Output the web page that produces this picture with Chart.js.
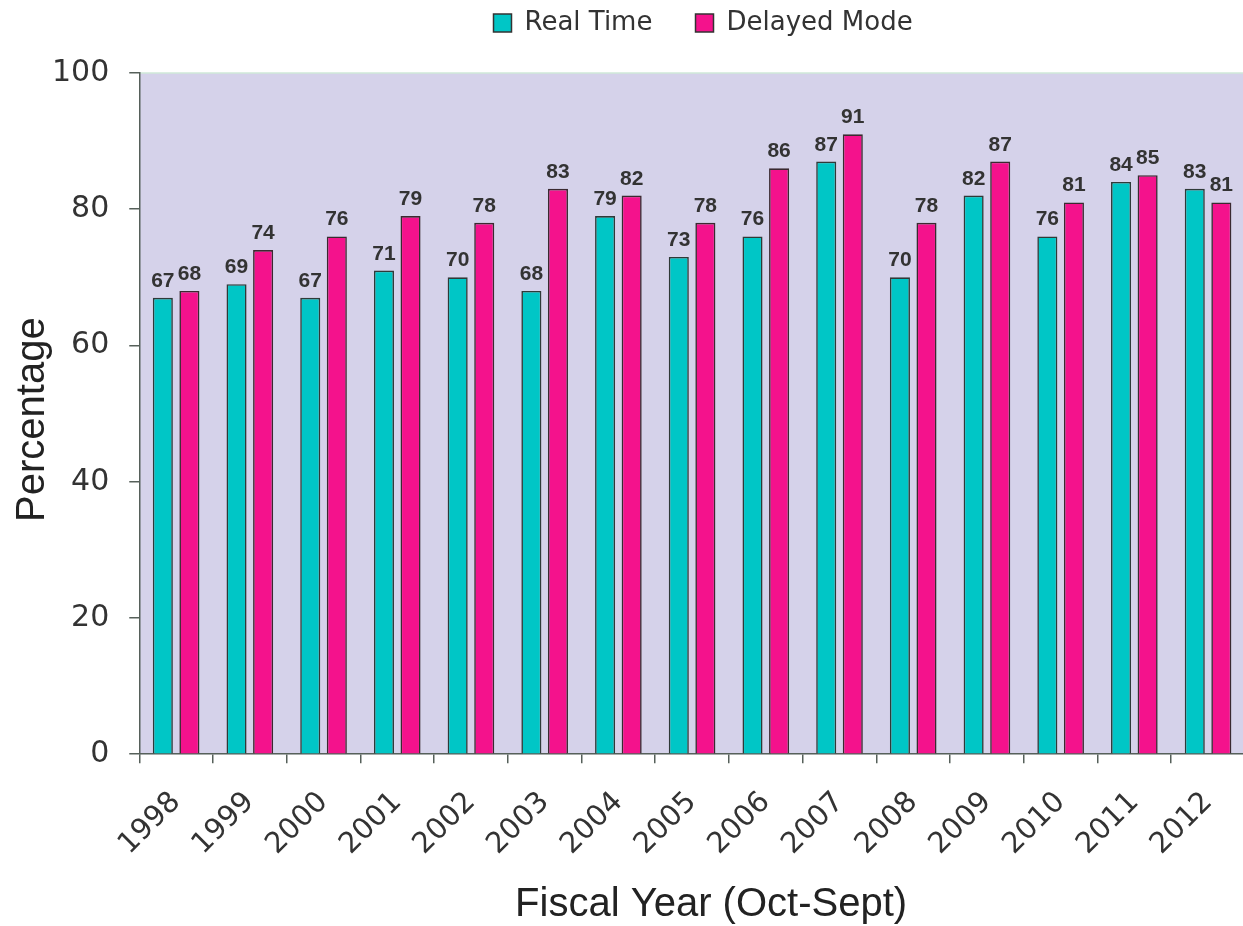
<!DOCTYPE html>
<html>
<head>
<meta charset="utf-8">
<script src="https://cdn.jsdelivr.net/npm/chart.js@4"></script>
<style>
html,body{margin:0;padding:0;background:#fff;overflow:hidden;width:1243px;height:926px;}
#wrap{position:relative;width:1255px;height:926px;}
</style>
</head>
<body>
<div id="wrap"><canvas id="c"></canvas></div>
<script>
const years = ['1998','1999','2000','2001','2002','2003','2004','2005','2006','2007','2008','2009','2010','2011','2012'];
const realTime = [67,69,67,71,70,68,79,73,76,87,70,82,76,84,83];
const delayedMode = [68,74,76,79,78,83,82,78,86,91,78,87,81,85,81];
const yTicks = [0,20,40,60,80,100];

const FONT = '"DejaVu Sans", "Liberation Sans", sans-serif';
const TITLE_FONT = '"Liberation Sans", Arial, sans-serif';
const axisColor = '#56605a';

const bgPlugin = {
  id: 'bg',
  beforeDraw(chart) {
    const {ctx, chartArea: a} = chart;
    ctx.save();
    ctx.fillStyle = '#d5d2ea';
    ctx.fillRect(a.left, a.top, a.right - a.left, a.bottom - a.top);
    ctx.strokeStyle = '#cfe8d8';
    ctx.lineWidth = 1.5;
    ctx.beginPath();
    ctx.moveTo(a.left, a.top);
    ctx.lineTo(a.right, a.top);
    ctx.stroke();
    ctx.restore();
  }
};

const labelPlugin = {
  id: 'vlabels',
  afterDatasetsDraw(chart) {
    const ctx = chart.ctx;
    ctx.save();
    ctx.font = 'bold 21px "Liberation Sans", Arial, sans-serif';
    ctx.fillStyle = '#333333';
    ctx.textAlign = 'center';
    ctx.textBaseline = 'alphabetic';
    chart.data.datasets.forEach((ds, i) => {
      const meta = chart.getDatasetMeta(i);
      meta.data.forEach((el, j) => {
        ctx.fillText(String(ds.data[j]), el.x, el.y - 11);
      });
    });
    ctx.restore();
  }
};

function shiftTitle(scale, dx, dy) {
  if (!scale || scale._titleShifted) return;
  const orig = scale.drawTitle;
  scale.drawTitle = function () {
    this.ctx.save();
    this.ctx.translate(dx, dy);
    orig.apply(this, arguments);
    this.ctx.restore();
  };
  scale._titleShifted = true;
}

const legendMargin = {
  id: 'legendMargin',
  beforeInit(chart) {
    const lg = chart.legend;
    if (!lg) return;
    const orig = lg.fit;
    lg.fit = function () { orig.call(this); this.height += 27; };
  },
  afterLayout(chart) {
    const lg = chart.legend;
    if (lg) { lg.left += 11; lg.right += 11; }
    shiftTitle(chart.scales.x, 19, 0);
    shiftTitle(chart.scales.y, 0, 6);
  }
};

new Chart(document.getElementById('c'), {
  type: 'bar',
  data: {
    labels: years,
    datasets: [
      {label: 'Real Time', data: realTime, backgroundColor: '#00C6C6', borderColor: '#2f3a38', borderWidth: 1.6, borderSkipped: 'bottom'},
      {label: 'Delayed Mode', data: delayedMode, backgroundColor: '#F4128C', borderColor: '#3a2a30', borderWidth: 1.6, borderSkipped: 'bottom'}
    ]
  },
  options: {
    responsive: true,
    maintainAspectRatio: false,
    animation: false,
    datasets: {bar: {categoryPercentage: 0.721, barPercentage: 0.755}},
    layout: {padding: {top: 0, right: 0, left: 6, bottom: 0}},
    plugins: {
      legend: {
        position: 'top',
        fullSize: false,
        labels: {
          font: {family: FONT, size: 26},
          color: '#333',
          boxWidth: 18,
          boxHeight: 18,
          padding: 10,
          generateLabels(chart) {
            return chart.data.datasets.map((d, i) => ({
              text: i === 0 ? d.label + '    ' : d.label,
              fillStyle: d.backgroundColor, strokeStyle: '#333', lineWidth: 1.5,
              datasetIndex: i, hidden: false, fontColor: '#333'
            }));
          }
        }
      },
      tooltip: {enabled: false}
    },
    scales: {
      x: {
        offset: true,
        grid: {display: true, drawOnChartArea: false, drawTicks: true, tickLength: 9, offset: true, color: axisColor, lineWidth: 1.5},
        border: {display: true, color: axisColor, width: 1.5},
        ticks: {font: {family: FONT, size: 29}, color: '#333', minRotation: 45, maxRotation: 45, padding: 22},
        title: {display: true, text: 'Fiscal Year (Oct-Sept)', font: {family: TITLE_FONT, size: 40, lineHeight: 1.05}, color: '#222', padding: {top: 0, bottom: 0}}
      },
      y: {
        min: 0, max: 100,
        afterBuildTicks(axis) { axis.ticks = yTicks.map(v => ({value: v})); },
        grid: {display: true, drawOnChartArea: false, drawTicks: true, tickLength: 10, color: axisColor, lineWidth: 1.5},
        border: {display: true, color: axisColor, width: 1.5},
        ticks: {font: {family: FONT, size: 30}, color: '#333', padding: 20},
        title: {display: true, text: 'Percentage', font: {family: TITLE_FONT, size: 40}, color: '#222', padding: {top: 3, bottom: -25}}
      }
    }
  },
  plugins: [bgPlugin, labelPlugin, legendMargin]
});
</script>
</body>
</html>
